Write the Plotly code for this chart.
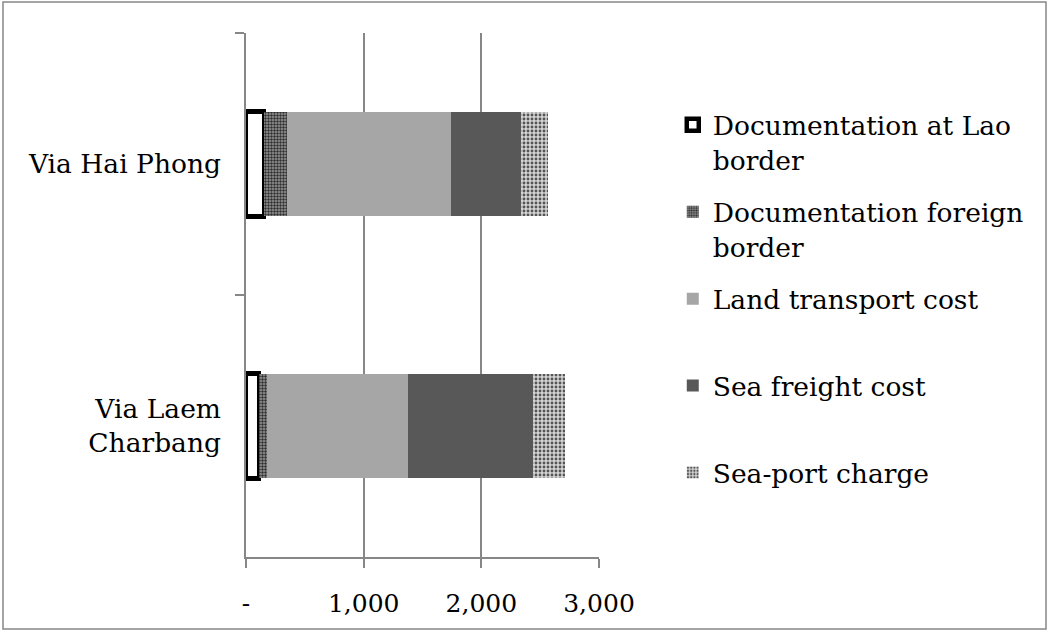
import plotly.graph_objects as go

categories = ["Via Hai Phong", "Via Laem<br>Charbang"]
series_names = [
    "Documentation at Lao<br>border",
    "Documentation foreign<br>border",
    "Land transport cost<br>&nbsp;",
    "Sea freight cost<br>&nbsp;",
    "Sea-port charge",
]
doc_lao = [155, 110]
doc_foreign = [195, 70]
land_transport = [1395, 1200]
sea_freight = [595, 1063]
sea_port = [230, 272]

x_tickvals = [0, 1000, 2000, 3000]
x_ticktext = ["-", "1,000", "2,000", "3,000"]

FONT = "DejaVu Serif"
GRID = "#878787"
TXT = 26.5

fig = go.Figure()
fig.add_trace(go.Bar(
    y=categories, x=doc_lao, name=series_names[0], orientation="h", legendgroup="a",
    marker=dict(color="white", line=dict(color="black", width=4.5)),
))
fig.add_trace(go.Bar(
    y=categories, x=doc_foreign, name=series_names[1], orientation="h", legendgroup="b",
    marker=dict(color="#8a8a8a", line=dict(width=0),
                pattern=dict(shape=".", fgcolor="#2e2e2e", bgcolor="#9a9a9a",
                             size=3, solidity=0.5, fillmode="replace")),
))
fig.add_trace(go.Bar(
    y=categories, x=land_transport, name=series_names[2], orientation="h", legendgroup="c",
    marker=dict(color="#a6a6a6", line=dict(width=0)),
))
fig.add_trace(go.Bar(
    y=categories, x=sea_freight, name=series_names[3], orientation="h", legendgroup="d",
    marker=dict(color="#585858", line=dict(width=0)),
))
fig.add_trace(go.Bar(
    y=categories, x=sea_port, name=series_names[4], orientation="h", legendgroup="e",
    marker=dict(color="#bdbdbd", line=dict(width=0),
                pattern=dict(shape=".", fgcolor="#555555", bgcolor="#d4d4d4",
                             size=4, solidity=0.4, fillmode="replace")),
))

fig.update_layout(
    width=1049, height=631,
    barmode="stack", bargap=0.6,
    paper_bgcolor="white", plot_bgcolor="white",
    margin=dict(l=246, r=450, t=33, b=74, pad=0),
    font=dict(family=FONT, size=TXT, color="black"),
    showlegend=True,
    legend=dict(
        x=1.209, y=0.87, xanchor="left", yanchor="top",
        traceorder="grouped", valign="top",
        font=dict(family=FONT, size=TXT, color="black"),
        tracegroupgap=15, itemwidth=30,
        bgcolor="rgba(0,0,0,0)",
    ),
    xaxis=dict(
        range=[0, 3000], tickvals=x_tickvals, ticktext=x_ticktext,
        showgrid=True, gridcolor=GRID, gridwidth=1.5,
        showline=True, linecolor=GRID, linewidth=1.5,
        ticks="outside", ticklen=9, tickcolor=GRID, tickwidth=1.5,
        ticklabelstandoff=14, zeroline=False,
        tickfont=dict(family=FONT, size=25),
    ),
    yaxis=dict(
        autorange="reversed", type="category",
        showgrid=False, showline=True, linecolor=GRID, linewidth=1.5,
        ticks="outside", ticklen=9, tickcolor=GRID, tickwidth=1.5,
        tickson="boundaries", ticklabelstandoff=18,
        tickfont=dict(family=FONT, size=TXT),
    ),
    shapes=[dict(
        type="rect", xref="paper", yref="paper",
        x0=(3 - 246) / 353, x1=(1046 - 246) / 353,
        y0=(557 - 629) / 524, y1=(557 - 2) / 524,
        line=dict(color=GRID, width=1.5), fillcolor="rgba(0,0,0,0)",
        layer="below",
    )],
)

fig.write_html("out.html", config={"displayModeBar": False},
               post_script="document.body.style.margin='0';")
